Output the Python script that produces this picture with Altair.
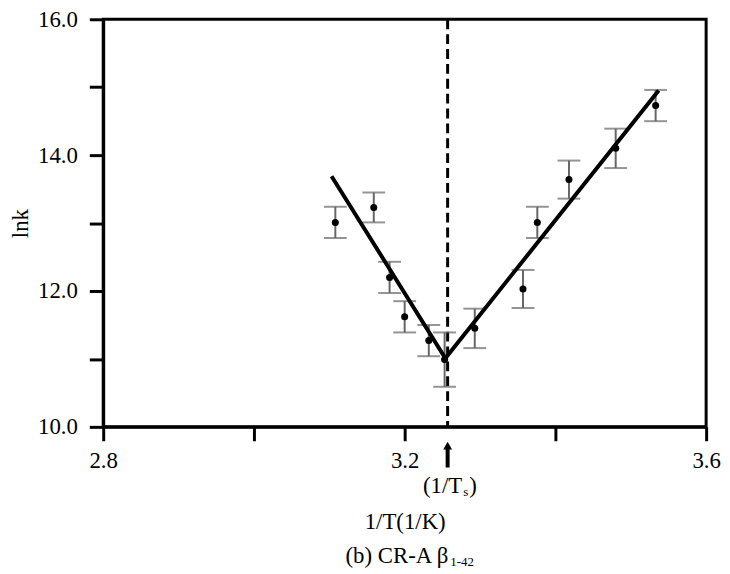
import altair as alt
import pandas as pd

# ---- data ----
inv_T = [3.108, 3.159, 3.180, 3.200, 3.232, 3.253, 3.293, 3.357, 3.376, 3.418, 3.480, 3.533]
lnk = [13.01, 13.23, 12.20, 11.62, 11.27, 10.99, 11.45, 12.03, 13.01, 13.64, 14.10, 14.73]
err = [0.23, 0.22, 0.23, 0.23, 0.23, 0.40, 0.29, 0.28, 0.23, 0.28, 0.29, 0.23]

fit_x = [3.103, 3.254, 3.537]
fit_y = [13.69, 11.01, 14.95]

Ts = 3.257

x_ticks = [2.8, 3.0, 3.2, 3.4, 3.6]
y_ticks = [10, 11, 12, 13, 14, 15, 16]

x_title = "1/T(1/K)"
y_title = "lnk"
ts_parts = ["(1/T", "s", ")"]
caption_parts = ["(b) CR-A β", "1-42"]

W, H = 608, 411
FONT = "Liberation Serif"

pts = pd.DataFrame({"x": inv_T, "y": lnk,
                    "lo": [v - e for v, e in zip(lnk, err)],
                    "hi": [v + e for v, e in zip(lnk, err)]})
fit = pd.DataFrame({"x": fit_x, "y": fit_y})

xs = alt.Scale(domain=[2.8, 3.6], nice=False, zero=False)
ys = alt.Scale(domain=[10, 16], nice=False, zero=False)

xaxis = alt.Axis(values=x_ticks, title=x_title,
                 labelExpr="(datum.value == 3 || datum.value == 3.4) ? '' : format(datum.value, '.1f')",
                 labelFlush=False, labelPadding=9, titlePadding=38)
yaxis = alt.Axis(values=y_ticks, title=y_title,
                 labelExpr="(datum.value % 2 == 0) ? format(datum.value, '.1f') : ''",
                 labelPadding=12, titlePadding=5)

base = alt.Chart(pts)

bars = base.mark_rule(color="#666666", strokeWidth=2).encode(
    x=alt.X("x:Q", scale=xs, axis=xaxis), y=alt.Y("lo:Q", scale=ys, axis=yaxis), y2="hi:Q")
cap_lo = base.mark_tick(orient="horizontal", color="#666666", size=23, thickness=2).encode(
    x=alt.X("x:Q", scale=xs), y=alt.Y("lo:Q", scale=ys))
cap_hi = base.mark_tick(orient="horizontal", color="#666666", size=23, thickness=2).encode(
    x=alt.X("x:Q", scale=xs), y=alt.Y("hi:Q", scale=ys))
dots = base.mark_circle(color="black", size=50, opacity=1).encode(
    x=alt.X("x:Q", scale=xs), y=alt.Y("y:Q", scale=ys))

fit_line = alt.Chart(fit).mark_line(color="black", strokeWidth=4).encode(
    x=alt.X("x:Q", scale=xs), y=alt.Y("y:Q", scale=ys))

ts_df = pd.DataFrame({"x": [Ts], "top": [16], "bot": [10]})
dash = alt.Chart(ts_df).mark_rule(color="black", strokeWidth=3, strokeDash=[10, 5]).encode(
    x=alt.X("x:Q", scale=xs), y=alt.Y("top:Q", scale=ys), y2="bot:Q")

arrow_shaft = alt.Chart(ts_df).mark_rule(color="black", strokeWidth=4, clip=False).encode(
    x=alt.X("x:Q", scale=xs), y=alt.value(432), y2=alt.value(452))
arrow_head = alt.Chart(ts_df).mark_point(shape="triangle-up", filled=True, color="black",
                                         size=80, opacity=1, clip=False).encode(
    x=alt.X("x:Q", scale=xs), y=alt.value(430))

ts_main = alt.Chart(pd.DataFrame({"t": [ts_parts[0]]})).mark_text(
    font=FONT, fontSize=23, align="right", baseline="middle", color="black").encode(
    text="t:N", x=alt.value(362), y=alt.value(471))
ts_sub = alt.Chart(pd.DataFrame({"t": [ts_parts[1]]})).mark_text(
    font=FONT, fontSize=13, align="left", baseline="middle", color="black").encode(
    text="t:N", x=alt.value(363), y=alt.value(477))
ts_close = alt.Chart(pd.DataFrame({"t": [ts_parts[2]]})).mark_text(
    font=FONT, fontSize=23, align="left", baseline="middle", color="black").encode(
    text="t:N", x=alt.value(369), y=alt.value(471))

cap_main = alt.Chart(pd.DataFrame({"t": [caption_parts[0]]})).mark_text(
    font=FONT, fontSize=23, align="right", baseline="middle", color="black").encode(
    text="t:N", x=alt.value(348), y=alt.value(541))
cap_sub = alt.Chart(pd.DataFrame({"t": [caption_parts[1]]})).mark_text(
    font=FONT, fontSize=13, align="left", baseline="middle", color="black").encode(
    text="t:N", x=alt.value(350), y=alt.value(547))

chart = alt.layer(
    dash, bars, cap_lo, cap_hi, fit_line, dots,
    arrow_shaft, arrow_head, ts_main, ts_sub, ts_close, cap_main, cap_sub
).properties(
    width=W, height=H,
    autosize=alt.AutoSizeParams(type="none"),
    padding={"left": 96, "top": 9, "right": 16, "bottom": 146},
    background="white",
).configure_view(
    stroke="black", strokeWidth=3
).configure_axis(
    labelFont=FONT, labelFontSize=23, labelColor="black",
    titleFont=FONT, titleFontSize=23, titleFontWeight="normal", titleColor="black",
    tickColor="black", tickWidth=3, tickSize=14,
    domainColor="black", domainWidth=3, grid=False,
)

chart.save("out.html", embed_options={"renderer": "svg", "actions": False})
